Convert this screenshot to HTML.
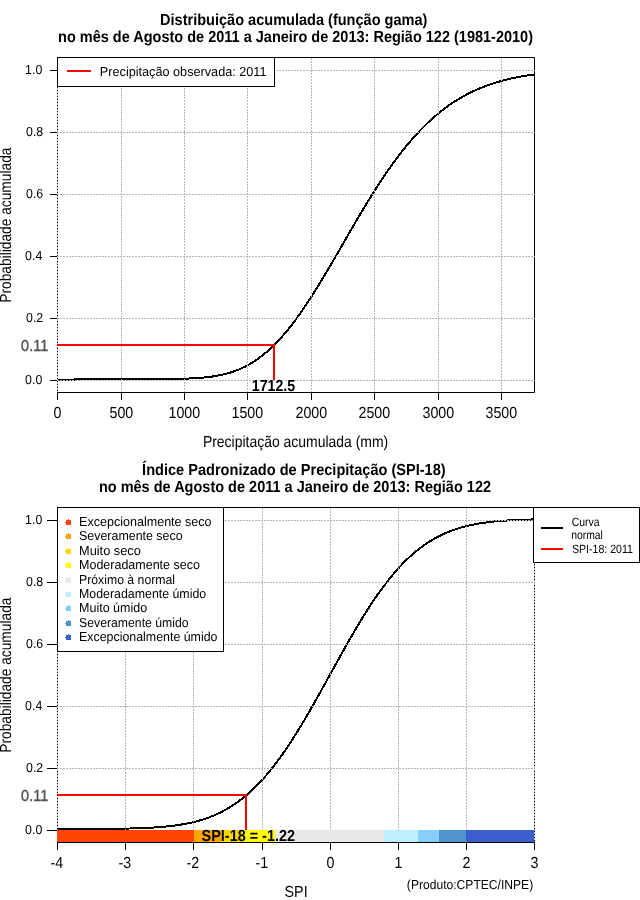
<!DOCTYPE html>
<html><head><meta charset="utf-8"><title>SPI</title><style>
html,body{margin:0;padding:0;background:#fff;width:640px;height:900px;overflow:hidden}
svg{display:block;will-change:transform}
text{font-family:'Liberation Sans',Arial,Helvetica,sans-serif;text-rendering:geometricPrecision}
</style></head>
<body><svg width="640" height="900" viewBox="0 0 640 900">
<rect width="640" height="900" fill="#fff"/>
<path d="M57,57.5 H534.5 V392.5 H57 M57.5,57 V392" fill="none" stroke="#000" stroke-width="1"/>
<polyline points="57,380 57,380 58.2,380 59.39,380 60.59,380 61.78,380 62.98,380 64.18,380 65.37,380 66.57,380 67.76,380 68.96,380 70.16,380 71.35,380 72.55,380 73.75,380 74.94,379 76.14,379 77.33,379 78.53,379 79.73,379 80.92,379 82.12,379 83.31,379 84.51,379 85.71,379 86.9,379 88.1,379 89.29,379 90.49,379 91.69,379 92.88,379 94.08,379 95.27,379 96.47,379 97.67,379 98.86,379 100.06,379 101.26,379 102.45,379 103.65,379 104.84,379 106.04,379 107.24,379 108.43,379 109.63,379 110.82,379 112.02,379 113.22,379 114.41,379 115.61,379 116.8,379 118,379 119.2,379 120.39,379 121.59,379 122.78,379 123.98,379 125.18,379 126.37,379 127.57,379 128.76,379 129.96,379 131.16,379 132.35,379 133.55,379 134.75,379 135.94,379 137.14,379 138.33,379 139.53,379 140.73,379 141.92,379 143.12,379 144.31,379 145.51,378.99 146.71,378.99 147.9,378.99 149.1,378.99 150.29,378.99 151.49,378.99 152.69,378.99 153.88,378.98 155.08,378.98 156.27,378.98 157.47,378.98 158.67,378.97 159.86,378.97 161.06,378.96 162.26,378.96 163.45,378.95 164.65,378.95 165.84,378.94 167.04,378.93 168.24,378.92 169.43,378.91 170.63,378.9 171.82,378.89 173.02,378.87 174.22,378.86 175.41,378.84 176.61,378.82 177.8,378.8 179,378.78 180.2,378.76 181.39,378.73 182.59,378.7 183.78,378.67 184.98,378.64 186.18,378.6 187.37,378.56 188.57,378.51 189.77,378.47 190.96,378.42 192.16,378.36 193.35,378.3 194.55,378.24 195.75,378.17 196.94,378.09 198.14,378.01 199.33,377.93 200.53,377.83 201.73,377.74 202.92,377.63 204.12,377.52 205.31,377.4 206.51,377.27 207.71,377.14 208.9,377 210.1,376.84 211.29,376.68 212.49,376.51 213.69,376.33 214.88,376.14 216.08,375.94 217.27,375.72 218.47,375.5 219.67,375.26 220.86,375.01 222.06,374.75 223.26,374.47 224.45,374.19 225.65,373.88 226.84,373.56 228.04,373.23 229.24,372.88 230.43,372.52 231.63,372.14 232.82,371.74 234.02,371.33 235.22,370.89 236.41,370.44 237.61,369.98 238.8,369.49 240,368.98 241.2,368.46 242.39,367.91 243.59,367.34 244.78,366.76 245.98,366.15 247.18,365.52 248.37,364.87 249.57,364.19 250.77,363.5 251.96,362.78 253.16,362.04 254.35,361.27 255.55,360.48 256.75,359.67 257.94,358.83 259.14,357.97 260.33,357.09 261.53,356.18 262.73,355.24 263.92,354.29 265.12,353.3 266.31,352.29 267.51,351.26 268.71,350.2 269.9,349.11 271.1,348 272.29,346.87 273.49,345.7 274.69,344.52 275.88,343.3 277.08,342.07 278.28,340.8 279.47,339.52 280.67,338.2 281.86,336.87 283.06,335.5 284.26,334.12 285.45,332.7 286.65,331.27 287.84,329.81 289.04,328.33 290.24,326.82 291.43,325.29 292.63,323.74 293.82,322.16 295.02,320.57 296.22,318.95 297.41,317.31 298.61,315.65 299.8,313.96 301,312.26 302.2,310.54 303.39,308.8 304.59,307.04 305.78,305.26 306.98,303.46 308.18,301.65 309.37,299.82 310.57,297.97 311.77,296.11 312.96,294.23 314.16,292.34 315.35,290.43 316.55,288.51 317.75,286.57 318.94,284.63 320.14,282.67 321.33,280.7 322.53,278.72 323.73,276.73 324.92,274.72 326.12,272.71 327.31,270.7 328.51,268.67 329.71,266.64 330.9,264.6 332.1,262.55 333.29,260.5 334.49,258.45 335.69,256.39 336.88,254.32 338.08,252.26 339.28,250.19 340.47,248.12 341.67,246.05 342.86,243.98 344.06,241.9 345.26,239.83 346.45,237.76 347.65,235.7 348.84,233.63 350.04,231.57 351.24,229.51 352.43,227.45 353.63,225.4 354.82,223.36 356.02,221.32 357.22,219.29 358.41,217.26 359.61,215.24 360.8,213.23 362,211.22 363.2,209.23 364.39,207.24 365.59,205.27 366.79,203.3 367.98,201.34 369.18,199.4 370.37,197.46 371.57,195.54 372.77,193.63 373.96,191.73 375.16,189.85 376.35,187.97 377.55,186.11 378.75,184.27 379.94,182.44 381.14,180.62 382.33,178.81 383.53,177.03 384.73,175.25 385.92,173.5 387.12,171.75 388.31,170.03 389.51,168.32 390.71,166.62 391.9,164.94 393.1,163.28 394.3,161.64 395.49,160.01 396.69,158.4 397.88,156.81 399.08,155.23 400.28,153.67 401.47,152.13 402.67,150.61 403.86,149.11 405.06,147.62 406.26,146.15 407.45,144.7 408.65,143.27 409.84,141.85 411.04,140.45 412.24,139.08 413.43,137.71 414.63,136.37 415.82,135.05 417.02,133.74 418.22,132.45 419.41,131.18 420.61,129.93 421.8,128.7 423,127.48 424.2,126.29 425.39,125.11 426.59,123.94 427.79,122.8 428.98,121.67 430.18,120.56 431.37,119.47 432.57,118.4 433.77,117.34 434.96,116.3 436.16,115.28 437.35,114.27 438.55,113.28 439.75,112.31 440.94,111.35 442.14,110.42 443.33,109.49 444.53,108.59 445.73,107.69 446.92,106.82 448.12,105.96 449.31,105.12 450.51,104.29 451.71,103.47 452.9,102.68 454.1,101.89 455.3,101.12 456.49,100.37 457.69,99.63 458.88,98.91 460.08,98.19 461.28,97.5 462.47,96.81 463.67,96.14 464.86,95.49 466.06,94.84 467.26,94.21 468.45,93.6 469.65,92.99 470.84,92.4 472.04,91.82 473.24,91.25 474.43,90.69 475.63,90.15 476.82,89.62 478.02,89.09 479.22,88.58 480.41,88.09 481.61,87.6 482.81,87.12 484,86.65 485.2,86.2 486.39,85.75 487.59,85.31 488.79,84.89 489.98,84.47 491.18,84.06 492.37,83.66 493.57,83.27 494.77,82.89 495.96,82.52 497.16,82.16 498.35,81.81 499.55,81.46 500.75,81.12 501.94,80.79 503.14,80.47 504.33,80.16 505.53,79.85 506.73,79.55 507.92,79.26 509.12,78.98 510.31,78.7 511.51,78.43 512.71,78.17 513.9,77.91 515.1,77.66 516.3,77.42 517.49,77.18 518.69,76.94 519.88,76.72 521.08,76.5 522.28,76.28 523.47,76.07 524.67,75.87 525.86,75.67 527.06,75.48 528.26,75.29 529.45,75.11 530.65,74.93 531.84,74.75 533.04,74.59 534.24,74.42" fill="none" stroke="#000" stroke-width="2" stroke-linejoin="round" shape-rendering="crispEdges"/>
<g stroke="#b6b6b6" stroke-width="1" stroke-dasharray="2 1" fill="none">
<line x1="57.5" y1="58" x2="57.5" y2="392"/>
<line x1="121.5" y1="58" x2="121.5" y2="392"/>
<line x1="184.5" y1="58" x2="184.5" y2="392"/>
<line x1="247.5" y1="58" x2="247.5" y2="392"/>
<line x1="311.5" y1="58" x2="311.5" y2="392"/>
<line x1="374.5" y1="58" x2="374.5" y2="392"/>
<line x1="438.5" y1="58" x2="438.5" y2="392"/>
<line x1="501.5" y1="58" x2="501.5" y2="392"/>
<line x1="57" y1="380.5" x2="535" y2="380.5"/>
<line x1="57" y1="318.5" x2="535" y2="318.5"/>
<line x1="57" y1="256.5" x2="535" y2="256.5"/>
<line x1="57" y1="194.5" x2="535" y2="194.5"/>
<line x1="57" y1="132.5" x2="535" y2="132.5"/>
<line x1="57" y1="70.5" x2="535" y2="70.5"/>
</g>
<g stroke="#000" stroke-width="1">
<line x1="57.5" y1="393" x2="57.5" y2="400"/>
<line x1="121.5" y1="393" x2="121.5" y2="400"/>
<line x1="184.5" y1="393" x2="184.5" y2="400"/>
<line x1="247.5" y1="393" x2="247.5" y2="400"/>
<line x1="311.5" y1="393" x2="311.5" y2="400"/>
<line x1="374.5" y1="393" x2="374.5" y2="400"/>
<line x1="438.5" y1="393" x2="438.5" y2="400"/>
<line x1="501.5" y1="393" x2="501.5" y2="400"/>
</g>
<text transform="translate(53.5,418) scale(0.8882,1)" font-size="16" fill="#000">0</text>
<text transform="translate(109.51,418) scale(0.8882,1)" font-size="16" fill="#000">500</text>
<text transform="translate(168.51,418) scale(0.8882,1)" font-size="16" fill="#000">1000</text>
<text transform="translate(231.51,418) scale(0.8882,1)" font-size="16" fill="#000">1500</text>
<text transform="translate(295.51,418) scale(0.8882,1)" font-size="16" fill="#000">2000</text>
<text transform="translate(358.51,418) scale(0.8882,1)" font-size="16" fill="#000">2500</text>
<text transform="translate(422.51,418) scale(0.8882,1)" font-size="16" fill="#000">3000</text>
<text transform="translate(485.51,418) scale(0.8882,1)" font-size="16" fill="#000">3500</text>
<g stroke="#000" stroke-width="1">
<line x1="50" y1="380.5" x2="57" y2="380.5"/>
<line x1="50" y1="318.5" x2="57" y2="318.5"/>
<line x1="50" y1="256.5" x2="57" y2="256.5"/>
<line x1="50" y1="194.5" x2="57" y2="194.5"/>
<line x1="50" y1="132.5" x2="57" y2="132.5"/>
<line x1="50" y1="70.5" x2="57" y2="70.5"/>
</g>
<text transform="translate(25.1,384) scale(0.9500,1)" font-size="13" fill="#000">0.0</text>
<text transform="translate(26.05,322) scale(0.9500,1)" font-size="13" fill="#000">0.2</text>
<text transform="translate(25.1,260) scale(0.9500,1)" font-size="13" fill="#000">0.4</text>
<text transform="translate(26.05,198) scale(0.9500,1)" font-size="13" fill="#000">0.6</text>
<text transform="translate(26.05,136) scale(0.9500,1)" font-size="13" fill="#000">0.8</text>
<text transform="translate(25.1,74) scale(0.9500,1)" font-size="13" fill="#000">1.0</text>
<path d="M57,345 H274 V380" fill="none" stroke="#f00" stroke-width="2"/>
<text transform="translate(21.1,351) scale(0.9036,1)" font-size="16" fill="#555" stroke="#555" stroke-width="0.4">0.11</text>
<text transform="translate(251.81,391) scale(0.8854,1)" font-size="16" font-weight="bold" fill="#000">1712.5</text>
<rect x="57.5" y="57.5" width="217" height="29" fill="#fff" stroke="#000" stroke-width="1"/>
<line x1="67" y1="71" x2="91" y2="71" stroke="#f00" stroke-width="2"/>
<text transform="translate(99.83,76) scale(0.9746,1)" font-size="13" fill="#000">Precipitação observada: 2011</text>
<text transform="translate(160.09,25) scale(0.9082,1)" font-size="16" font-weight="bold" fill="#000">Distribuição acumulada (função gama)</text>
<text transform="translate(58.09,42) scale(0.9061,1)" font-size="16" font-weight="bold" fill="#000">no mês de Agosto de 2011 a Janeiro de 2013: Região 122 (1981-2010)</text>
<text transform="translate(202.88,447) scale(0.8723,1)" font-size="16" fill="#000">Precipitação acumulada (mm)</text>
<path d="M57,507.5 H534.5 M57.5,507 V842 M534.5,507 V842" fill="none" stroke="#000" stroke-width="1"/>
<polyline points="57,828.99 57.8,828.99 59,828.99 60.19,828.99 61.39,828.99 62.58,828.99 63.78,828.99 64.97,828.98 66.17,828.98 67.36,828.98 68.56,828.98 69.75,828.98 70.95,828.98 72.15,828.98 73.34,828.97 74.54,828.97 75.73,828.97 76.93,828.97 78.12,828.97 79.32,828.96 80.51,828.96 81.71,828.96 82.91,828.96 84.1,828.95 85.3,828.95 86.49,828.95 87.69,828.94 88.88,828.94 90.08,828.93 91.27,828.93 92.47,828.93 93.66,828.92 94.86,828.92 96.06,828.91 97.25,828.9 98.45,828.9 99.64,828.89 100.84,828.88 102.03,828.88 103.23,828.87 104.42,828.86 105.62,828.85 106.82,828.84 108.01,828.83 109.21,828.82 110.4,828.81 111.6,828.79 112.79,828.78 113.99,828.77 115.18,828.75 116.38,828.74 117.57,828.72 118.77,828.71 119.97,828.69 121.16,828.67 122.36,828.65 123.55,828.63 124.75,828.61 125.94,828.58 127.14,828.56 128.33,828.53 129.53,828.5 130.72,828.47 131.92,828.44 133.12,828.41 134.31,828.38 135.51,828.34 136.7,828.31 137.9,828.27 139.09,828.22 140.29,828.18 141.48,828.14 142.68,828.09 143.88,828.04 145.07,827.99 146.27,827.93 147.46,827.87 148.66,827.81 149.85,827.75 151.05,827.68 152.24,827.61 153.44,827.54 154.63,827.46 155.83,827.38 157.03,827.3 158.22,827.21 159.42,827.12 160.61,827.03 161.81,826.93 163,826.82 164.2,826.71 165.39,826.6 166.59,826.48 167.78,826.36 168.98,826.23 170.18,826.1 171.37,825.96 172.57,825.81 173.76,825.66 174.96,825.5 176.15,825.34 177.35,825.17 178.54,824.99 179.74,824.8 180.94,824.61 182.13,824.41 183.33,824.2 184.52,823.99 185.72,823.77 186.91,823.53 188.11,823.29 189.3,823.04 190.5,822.78 191.69,822.51 192.89,822.24 194.09,821.95 195.28,821.65 196.48,821.34 197.67,821.02 198.87,820.69 200.06,820.34 201.26,819.99 202.45,819.62 203.65,819.25 204.85,818.85 206.04,818.45 207.24,818.03 208.43,817.6 209.63,817.16 210.82,816.7 212.02,816.23 213.21,815.74 214.41,815.24 215.6,814.72 216.8,814.18 218,813.64 219.19,813.07 220.39,812.49 221.58,811.89 222.78,811.28 223.97,810.64 225.17,809.99 226.36,809.33 227.56,808.64 228.75,807.94 229.95,807.21 231.15,806.47 232.34,805.71 233.54,804.93 234.73,804.13 235.93,803.31 237.12,802.47 238.32,801.61 239.51,800.72 240.71,799.82 241.91,798.9 243.1,797.95 244.3,796.99 245.49,796 246.69,794.99 247.88,793.96 249.08,792.9 250.27,791.83 251.47,790.73 252.66,789.61 253.86,788.46 255.06,787.3 256.25,786.11 257.45,784.9 258.64,783.66 259.84,782.4 261.03,781.12 262.23,779.82 263.42,778.49 264.62,777.14 265.82,775.77 267.01,774.37 268.21,772.95 269.4,771.51 270.6,770.04 271.79,768.55 272.99,767.04 274.18,765.51 275.38,763.95 276.57,762.38 277.77,760.78 278.97,759.15 280.16,757.51 281.36,755.85 282.55,754.16 283.75,752.45 284.94,750.73 286.14,748.98 287.33,747.21 288.53,745.43 289.72,743.62 290.92,741.79 292.12,739.95 293.31,738.09 294.51,736.21 295.7,734.31 296.9,732.39 298.09,730.46 299.29,728.52 300.48,726.55 301.68,724.57 302.88,722.58 304.07,720.57 305.27,718.55 306.46,716.52 307.66,714.47 308.85,712.41 310.05,710.35 311.24,708.26 312.44,706.17 313.63,704.07 314.83,701.96 316.03,699.85 317.22,697.72 318.42,695.59 319.61,693.45 320.81,691.3 322,689.15 323.2,686.99 324.39,684.83 325.59,682.67 326.78,680.51 327.98,678.34 329.18,676.17 330.37,674 331.57,671.83 332.76,669.66 333.96,667.49 335.15,665.33 336.35,663.17 337.54,661.01 338.74,658.85 339.94,656.7 341.13,654.55 342.33,652.41 343.52,650.28 344.72,648.15 345.91,646.04 347.11,643.93 348.3,641.83 349.5,639.74 350.69,637.65 351.89,635.59 353.09,633.53 354.28,631.48 355.48,629.45 356.67,627.43 357.87,625.42 359.06,623.43 360.26,621.45 361.45,619.48 362.65,617.54 363.85,615.61 365.04,613.69 366.24,611.79 367.43,609.91 368.63,608.05 369.82,606.21 371.02,604.38 372.21,602.57 373.41,600.79 374.6,599.02 375.8,597.27 377,595.55 378.19,593.84 379.39,592.15 380.58,590.49 381.78,588.85 382.97,587.22 384.17,585.62 385.36,584.05 386.56,582.49 387.75,580.96 388.95,579.45 390.15,577.96 391.34,576.49 392.54,575.05 393.73,573.63 394.93,572.23 396.12,570.86 397.32,569.51 398.51,568.18 399.71,566.88 400.91,565.6 402.1,564.34 403.3,563.1 404.49,561.89 405.69,560.7 406.88,559.54 408.08,558.39 409.27,557.27 410.47,556.17 411.66,555.1 412.86,554.04 414.06,553.01 415.25,552 416.45,551.01 417.64,550.05 418.84,549.1 420.03,548.18 421.23,547.28 422.42,546.39 423.62,545.53 424.82,544.69 426.01,543.87 427.21,543.07 428.4,542.29 429.6,541.53 430.79,540.79 431.99,540.06 433.18,539.36 434.38,538.67 435.57,538.01 436.77,537.36 437.97,536.72 439.16,536.11 440.36,535.51 441.55,534.93 442.75,534.36 443.94,533.82 445.14,533.28 446.33,532.76 447.53,532.26 448.72,531.77 449.92,531.3 451.12,530.84 452.31,530.4 453.51,529.97 454.7,529.55 455.9,529.15 457.09,528.75 458.29,528.38 459.48,528.01 460.68,527.66 461.88,527.31 463.07,526.98 464.27,526.66 465.46,526.35 466.66,526.05 467.85,525.76 469.05,525.49 470.24,525.22 471.44,524.96 472.63,524.71 473.83,524.47 475.03,524.23 476.22,524.01 477.42,523.8 478.61,523.59 479.81,523.39 481,523.2 482.2,523.01 483.39,522.83 484.59,522.66 485.78,522.5 486.98,522.34 488.18,522.19 489.37,522.04 490.57,521.9 491.76,521.77 492.96,521.64 494.15,521.52 495.35,521.4 496.54,521.29 497.74,521.18 498.94,521.07 500.13,520.97 501.33,520.88 502.52,520.79 503.72,520.7 504.91,520.62 506.11,520.54 507.3,520.46 508.5,520.39 509.69,520.32 510.89,520.25 512.09,520.19 513.28,520.13 514.48,520.07 515.67,520.01 516.87,519.96 518.06,519.91 519.26,519.86 520.45,519.82 521.65,519.78 522.85,519.73 524.04,519.69 525.24,519.66 526.43,519.62 527.63,519.59 528.82,519.56 530.02,519.53 531.21,519.5 532.41,519.47 533.6,519.44 534.8,519.42" fill="none" stroke="#000" stroke-width="2" stroke-linejoin="round" shape-rendering="crispEdges"/>
<g stroke="#b6b6b6" stroke-width="1" stroke-dasharray="2 1" fill="none">
<line x1="57.5" y1="508" x2="57.5" y2="842"/>
<line x1="125.5" y1="508" x2="125.5" y2="842"/>
<line x1="193.5" y1="508" x2="193.5" y2="842"/>
<line x1="262.5" y1="508" x2="262.5" y2="842"/>
<line x1="330.5" y1="508" x2="330.5" y2="842"/>
<line x1="398.5" y1="508" x2="398.5" y2="842"/>
<line x1="466.5" y1="508" x2="466.5" y2="842"/>
<line x1="534.5" y1="508" x2="534.5" y2="842"/>
<line x1="57" y1="830.5" x2="535" y2="830.5"/>
<line x1="57" y1="768.5" x2="535" y2="768.5"/>
<line x1="57" y1="706.5" x2="535" y2="706.5"/>
<line x1="57" y1="644.5" x2="535" y2="644.5"/>
<line x1="57" y1="582.5" x2="535" y2="582.5"/>
<line x1="57" y1="520.5" x2="535" y2="520.5"/>
</g>
<rect x="57" y="830" width="137" height="12" fill="#ff4500"/>
<rect x="194" y="830" width="27" height="12" fill="#ffa500"/>
<rect x="221" y="830" width="21" height="12" fill="#ffd700"/>
<rect x="242" y="830" width="33" height="12" fill="#ffff00"/>
<rect x="275" y="830" width="109" height="12" fill="#e8e8e8"/>
<rect x="384" y="830" width="34" height="12" fill="#bfefff"/>
<rect x="418" y="830" width="21" height="12" fill="#87cefa"/>
<rect x="439" y="830" width="27" height="12" fill="#4f94cd"/>
<rect x="466" y="830" width="68" height="12" fill="#3a5fcd"/>
<line x1="57" y1="842.5" x2="535" y2="842.5" stroke="#000" stroke-width="1"/>
<g stroke="#000" stroke-width="1">
<line x1="57.5" y1="843" x2="57.5" y2="850"/>
<line x1="125.5" y1="843" x2="125.5" y2="850"/>
<line x1="193.5" y1="843" x2="193.5" y2="850"/>
<line x1="262.5" y1="843" x2="262.5" y2="850"/>
<line x1="330.5" y1="843" x2="330.5" y2="850"/>
<line x1="398.5" y1="843" x2="398.5" y2="850"/>
<line x1="466.5" y1="843" x2="466.5" y2="850"/>
<line x1="534.5" y1="843" x2="534.5" y2="850"/>
</g>
<text transform="translate(50.48,868) scale(0.8882,1)" font-size="16" fill="#000">-4</text>
<text transform="translate(118.48,868) scale(0.8882,1)" font-size="16" fill="#000">-3</text>
<text transform="translate(186.48,868) scale(0.8882,1)" font-size="16" fill="#000">-2</text>
<text transform="translate(255.48,868) scale(0.8882,1)" font-size="16" fill="#000">-1</text>
<text transform="translate(326.5,868) scale(0.8882,1)" font-size="16" fill="#000">0</text>
<text transform="translate(394.5,868) scale(0.8882,1)" font-size="16" fill="#000">1</text>
<text transform="translate(462.5,868) scale(0.8882,1)" font-size="16" fill="#000">2</text>
<text transform="translate(530.5,868) scale(0.8882,1)" font-size="16" fill="#000">3</text>
<g stroke="#000" stroke-width="1">
<line x1="47" y1="830.5" x2="57" y2="830.5"/>
<line x1="47" y1="768.5" x2="57" y2="768.5"/>
<line x1="47" y1="706.5" x2="57" y2="706.5"/>
<line x1="47" y1="644.5" x2="57" y2="644.5"/>
<line x1="47" y1="582.5" x2="57" y2="582.5"/>
<line x1="47" y1="520.5" x2="57" y2="520.5"/>
</g>
<text transform="translate(25.1,834) scale(0.9500,1)" font-size="13" fill="#000">0.0</text>
<text transform="translate(26.05,772) scale(0.9500,1)" font-size="13" fill="#000">0.2</text>
<text transform="translate(25.1,710) scale(0.9500,1)" font-size="13" fill="#000">0.4</text>
<text transform="translate(26.05,648) scale(0.9500,1)" font-size="13" fill="#000">0.6</text>
<text transform="translate(26.05,586) scale(0.9500,1)" font-size="13" fill="#000">0.8</text>
<text transform="translate(25.1,524) scale(0.9500,1)" font-size="13" fill="#000">1.0</text>
<path d="M57,795 H246 V830" fill="none" stroke="#f00" stroke-width="2"/>
<text transform="translate(21.1,801) scale(0.9036,1)" font-size="16" fill="#555" stroke="#555" stroke-width="0.4">0.11</text>
<text transform="translate(201.6,841) scale(0.9010,1)" font-size="16" font-weight="bold" fill="#000">SPI-18 = -1.22</text>
<rect x="57.5" y="507.5" width="166" height="144" fill="#fff" stroke="#000" stroke-width="1"/>
<path d="M66,520h5v5h-5zM68,519h1v1h-1zM65,522h1v1h-1z" fill="#ff4500"/>
<text transform="translate(79.03,526) scale(0.9654,1)" font-size="13" fill="#000">Excepcionalmente seco</text>
<path d="M66,534h5v5h-5zM68,533h1v1h-1zM65,536h1v1h-1z" fill="#ffa500"/>
<text transform="translate(79.04,540) scale(0.9551,1)" font-size="13" fill="#000">Severamente seco</text>
<path d="M66,549h5v5h-5zM68,548h1v1h-1zM65,551h1v1h-1z" fill="#ffd700"/>
<text transform="translate(79.02,555) scale(0.9836,1)" font-size="13" fill="#000">Muito seco</text>
<path d="M66,563h5v5h-5zM68,562h1v1h-1zM65,565h1v1h-1z" fill="#ffff00"/>
<text transform="translate(79.04,569) scale(0.9613,1)" font-size="13" fill="#000">Moderadamente seco</text>
<path d="M66,578h5v5h-5zM68,577h1v1h-1zM65,580h1v1h-1z" fill="#e8e8e8"/>
<text transform="translate(79.06,584) scale(0.9420,1)" font-size="13" fill="#000">Próximo à normal</text>
<path d="M66,592h5v5h-5zM68,591h1v1h-1zM65,594h1v1h-1z" fill="#bfefff"/>
<text transform="translate(79.05,598) scale(0.9508,1)" font-size="13" fill="#000">Moderadamente úmido</text>
<path d="M66,606h5v5h-5zM68,605h1v1h-1zM65,608h1v1h-1z" fill="#87cefa"/>
<text transform="translate(79.04,612) scale(0.9609,1)" font-size="13" fill="#000">Muito úmido</text>
<path d="M66,621h5v5h-5zM68,620h1v1h-1zM65,623h1v1h-1z" fill="#4f94cd"/>
<text transform="translate(79.06,627) scale(0.9417,1)" font-size="13" fill="#000">Severamente úmido</text>
<path d="M66,635h5v5h-5zM68,634h1v1h-1zM65,637h1v1h-1z" fill="#3a5fcd"/>
<text transform="translate(79.05,641) scale(0.9528,1)" font-size="13" fill="#000">Excepcionalmente úmido</text>
<rect x="533.5" y="507.5" width="106" height="55" fill="#fff" stroke="#000" stroke-width="1"/>
<line x1="541" y1="528" x2="563" y2="528" stroke="#000" stroke-width="2"/>
<line x1="541" y1="549" x2="563" y2="549" stroke="#f00" stroke-width="2"/>
<text transform="translate(571.73,526) scale(0.8710,1)" font-size="12" fill="#000">Curva</text>
<text transform="translate(571.13,539) scale(0.8657,1)" font-size="12" fill="#000">normal</text>
<text transform="translate(571.92,553) scale(0.8824,1)" font-size="12" fill="#000">SPI-18: 2011</text>
<text transform="translate(142.09,475) scale(0.9105,1)" font-size="16" font-weight="bold" fill="#000">Índice Padronizado de Precipitação (SPI-18)</text>
<text transform="translate(98.89,492) scale(0.9067,1)" font-size="16" font-weight="bold" fill="#000">no mês de Agosto de 2011 a Janeiro de 2013: Região 122</text>
<text transform="translate(284.61,897) scale(0.8913,1)" font-size="16" fill="#000">SPI</text>
<text transform="translate(406.87,889) scale(0.9299,1)" font-size="13" fill="#000">(Produto:CPTEC/INPE)</text>
<text transform="translate(11,302.76) rotate(-90) scale(0.8594,1)" font-size="16">Probabilidade acumulada</text>
<text transform="translate(11,752.76) rotate(-90) scale(0.8594,1)" font-size="16">Probabilidade acumulada</text>
</svg></body></html>
